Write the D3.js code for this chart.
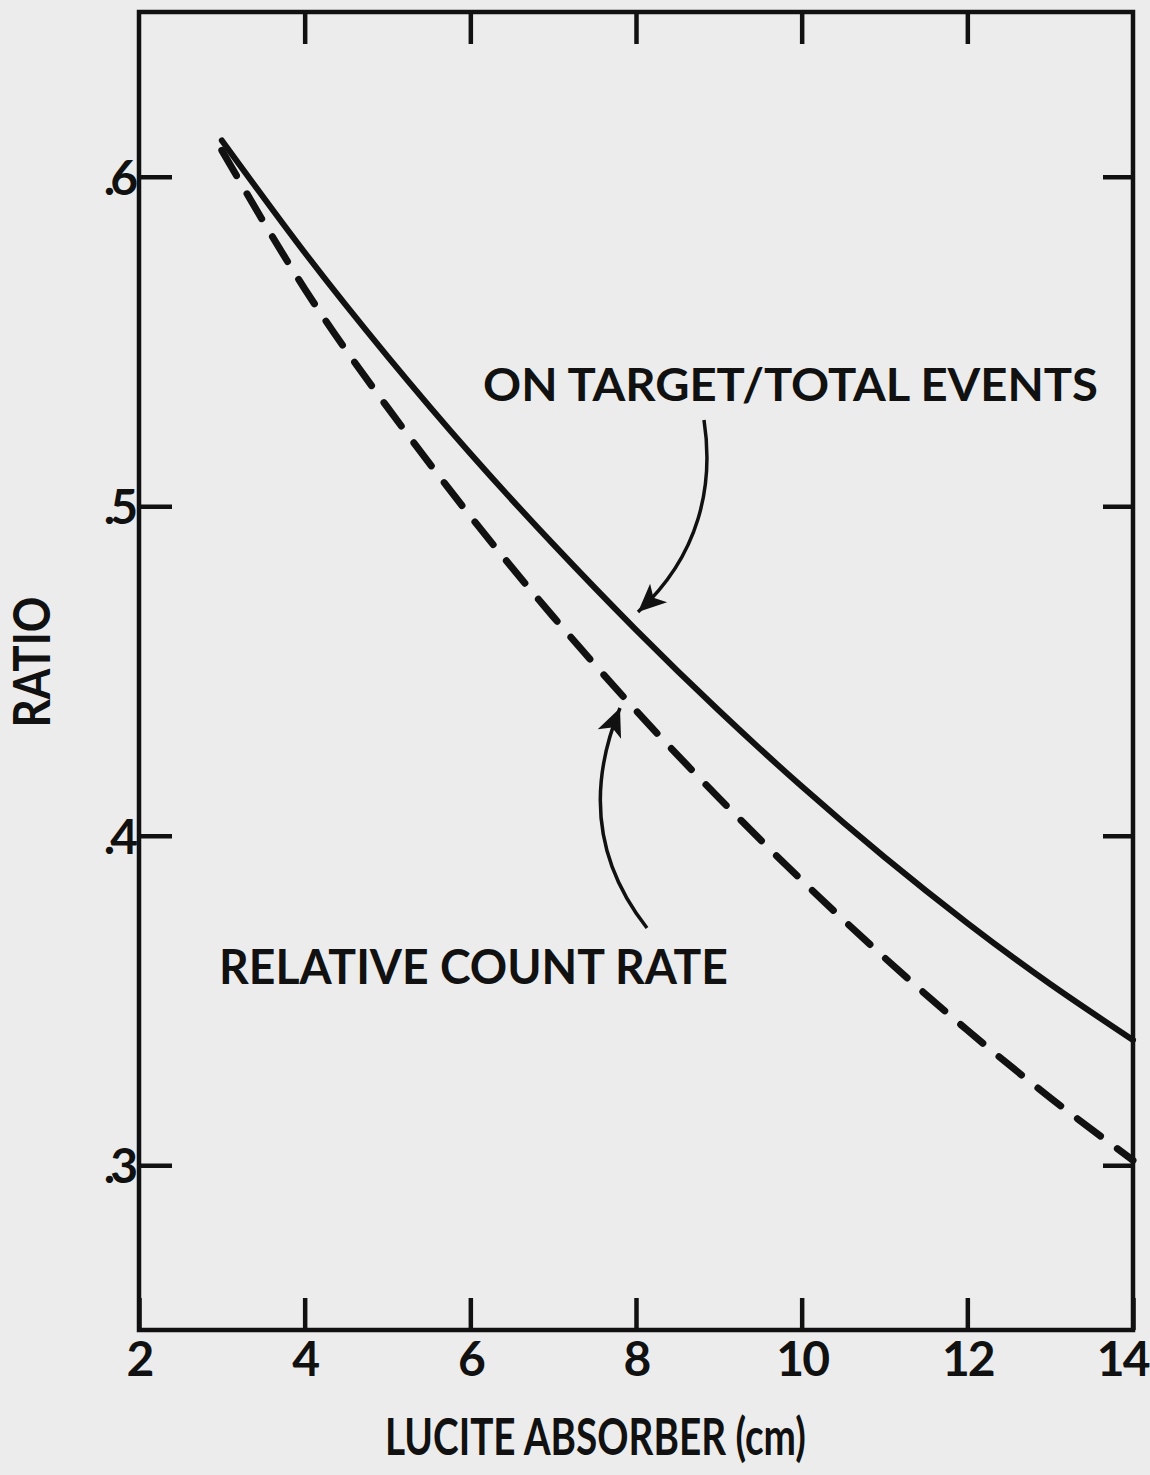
<!DOCTYPE html>
<html>
<head>
<meta charset="utf-8">
<script src="https://cdn.jsdelivr.net/npm/d3@7"></script>
<style>
  body { margin: 0; background: #ececec; }
  svg { display: block; }
  text { font-family: Lato, "Open Sans", sans-serif; font-weight: 700; fill: #111; }
</style>
</head>
<body>
<svg></svg>
<script>
// values
let absorber = [3, 4, 5, 6, 7, 8, 9, 10, 11, 12, 13, 14];
let onTarget = [0.611, 0.577, 0.5455, 0.516, 0.4885, 0.4625, 0.438, 0.415, 0.3935, 0.3735, 0.355, 0.338];
let countRate = [0.608, 0.566, 0.530, 0.497, 0.4665, 0.438, 0.4115, 0.3865, 0.363, 0.341, 0.3205, 0.3015];
let xTicks = [2, 4, 6, 8, 10, 12, 14];
let yTicks = [0.3, 0.4, 0.5, 0.6];
let yTickLabels = [".3", ".4", ".5", ".6"];

let width = 1150, height = 1475;
let frame = {left: 139, right: 1133, top: 12, bottom: 1330};

let svg = d3.select('svg')
    .attr("width", width)
    .attr("height", height);

let x = d3.scaleLinear().domain([2, 14]).range([frame.left, frame.right]);
let y = d3.scaleLinear().domain([0.25, 0.65]).range([frame.bottom, frame.top]);

// frame
svg.append("rect")
    .attr("x", frame.left)
    .attr("y", frame.top)
    .attr("width", frame.right - frame.left)
    .attr("height", frame.bottom - frame.top)
    .attr("fill", "none")
    .attr("stroke", "#111")
    .attr("stroke-width", 4.5);

// axes, ticks point inward
let bottomAxis = svg.append("g")
    .attr("transform", "translate(0," + frame.bottom + ")")
    .call(d3.axisBottom(x).tickValues(xTicks).tickSize(-32).tickPadding(12).tickFormat(d3.format("d")));
let topAxis = svg.append("g")
    .attr("transform", "translate(0," + frame.top + ")")
    .call(d3.axisTop(x).tickValues(xTicks.slice(1, -1)).tickSize(-32).tickFormat(""));
let leftAxis = svg.append("g")
    .attr("transform", "translate(" + frame.left + ",0)")
    .call(d3.axisLeft(y).tickValues(yTicks).tickSize(-33).tickPadding(6)
        .tickFormat((d, i) => yTickLabels[i]));
let rightAxis = svg.append("g")
    .attr("transform", "translate(" + frame.right + ",0)")
    .call(d3.axisRight(y).tickValues(yTicks).tickSize(-30).tickFormat(""));

[bottomAxis, topAxis, leftAxis, rightAxis].forEach(g => {
    g.select(".domain").remove();
    g.selectAll("line").attr("stroke", "#111").attr("stroke-width", 4.5);
    g.selectAll("text")
        .attr("fill", "#111")
        .style("font-family", "Lato, 'Open Sans', sans-serif")
        .style("font-weight", 700)
        .style("font-size", "48px");
});
leftAxis.selectAll("text").style("letter-spacing", "-5px").attr("dy", "0.36em");
bottomAxis.selectAll("text").style("letter-spacing", "-2px");
// last label sits against the page edge
bottomAxis.selectAll("text").filter(d => d === 14)
    .attr("text-anchor", "end")
    .attr("x", 15);

// curves
let line = d3.line()
    .x(d => x(d[0]))
    .y(d => y(d[1]))
    .curve(d3.curveNatural);

svg.append("path")
    .datum(absorber.map((a, i) => [a, onTarget[i]]))
    .attr("d", line)
    .attr("fill", "none")
    .attr("stroke", "#111")
    .attr("stroke-width", 6)
    .attr("stroke-linecap", "round");

svg.append("path")
    .datum(absorber.map((a, i) => [a, countRate[i]]))
    .attr("d", line)
    .attr("fill", "none")
    .attr("stroke", "#111")
    .attr("stroke-width", 7)
    .attr("stroke-linecap", "round")
    .attr("stroke-dasharray", "29 21");

// arrow heads
svg.append("defs").append("marker")
    .attr("id", "head")
    .attr("viewBox", "0 0 10 10")
    .attr("refX", 10)
    .attr("refY", 5)
    .attr("markerUnits", "userSpaceOnUse")
    .attr("markerWidth", 38)
    .attr("markerHeight", 28)
    .attr("orient", "auto")
    .append("path")
    .attr("d", "M0,0.5 L10,5 L0,9.5 L2.5,5 z")
    .attr("fill", "#111");

// annotations
svg.append("path")
    .attr("d", "M704,420 C714,485 700,555 638,612")
    .attr("fill", "none")
    .attr("stroke", "#111")
    .attr("stroke-width", 3.5)
    .attr("marker-end", "url(#head)");

svg.append("path")
    .attr("d", "M647,928 Q570,830 620,708")
    .attr("fill", "none")
    .attr("stroke", "#111")
    .attr("stroke-width", 3.5)
    .attr("marker-end", "url(#head)");

svg.append("text")
    .attr("x", 483)
    .attr("y", 401)
    .attr("textLength", 615)
    .attr("lengthAdjust", "spacingAndGlyphs")
    .style("font-size", "45px")
    .text("ON TARGET/TOTAL EVENTS");

svg.append("text")
    .attr("x", 219)
    .attr("y", 984)
    .attr("textLength", 509)
    .attr("lengthAdjust", "spacingAndGlyphs")
    .style("font-size", "47px")
    .text("RELATIVE COUNT RATE");

// axis titles
svg.append("text")
    .attr("x", 385)
    .attr("y", 1455)
    .attr("textLength", 421)
    .attr("lengthAdjust", "spacingAndGlyphs")
    .style("font-size", "52px")
    .style("font-weight", 700)
    .text("LUCITE ABSORBER (cm)");

svg.append("text")
    .attr("transform", "translate(50,662) rotate(-90)")
    .attr("text-anchor", "middle")
    .attr("textLength", 131)
    .attr("lengthAdjust", "spacingAndGlyphs")
    .style("font-size", "52px")
    .text("RATIO");
</script>
</body>
</html>
